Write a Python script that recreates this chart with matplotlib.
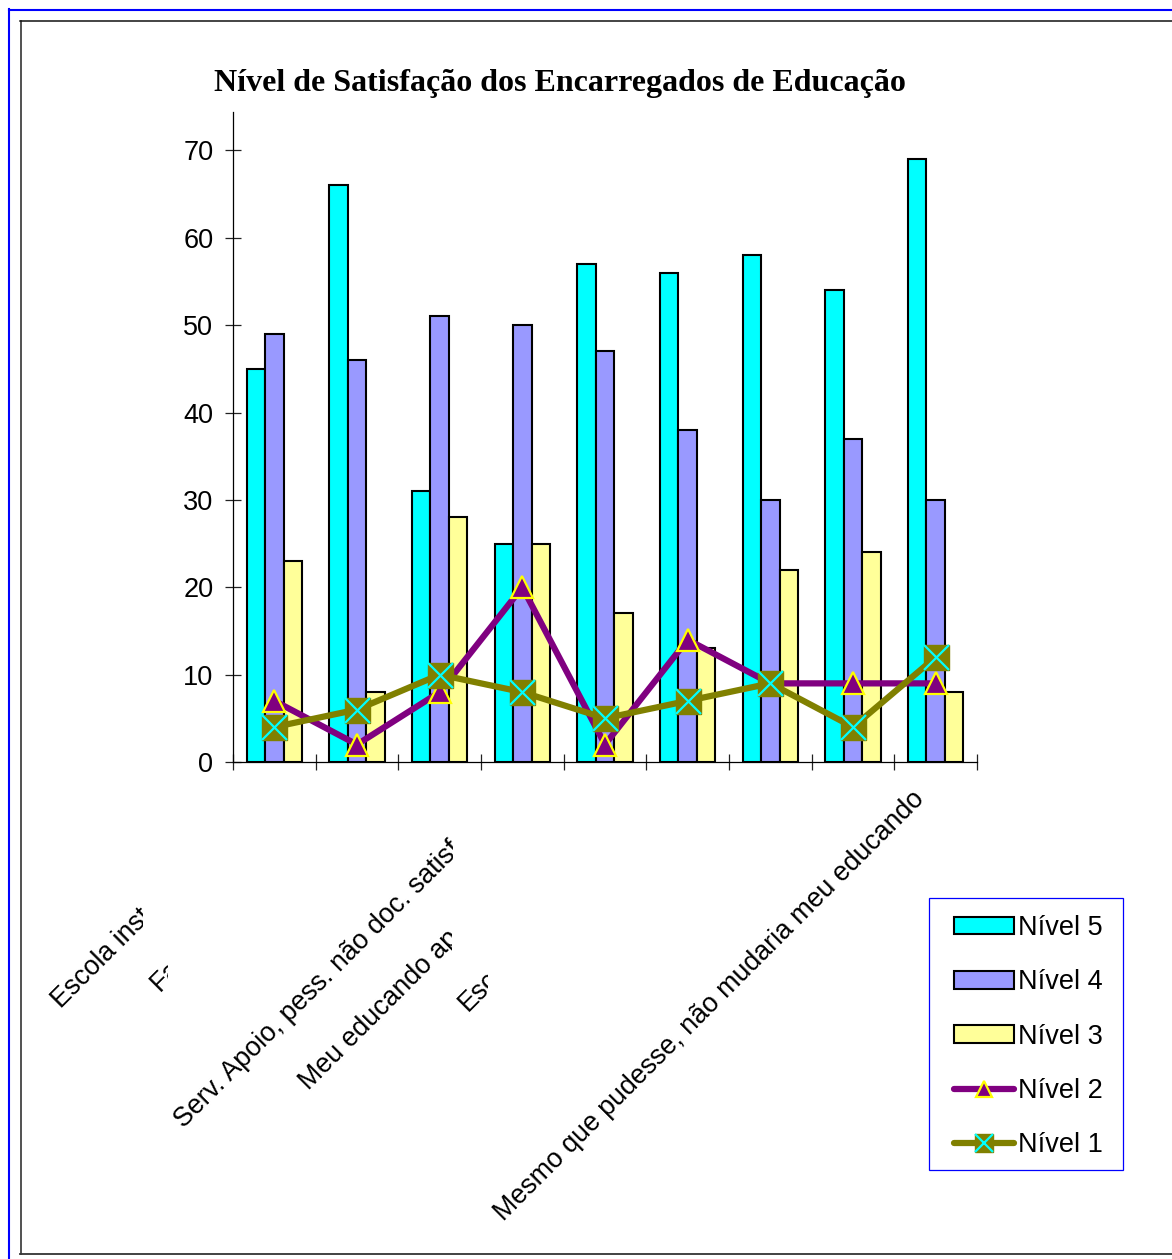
import matplotlib
matplotlib.use("Agg")
import matplotlib.pyplot as plt
import numpy as np
from matplotlib.lines import Line2D
from matplotlib.patches import Rectangle
from matplotlib.legend_handler import HandlerTuple
from matplotlib.transforms import Bbox

plt.rcParams["font.family"] = ["Liberation Sans", "DejaVu Sans"]

# ---- data -------------------------------------------------------------
title = "Nível de Satisfação dos Encarregados de Educação"
categories = [
    "Escola inst",
    "Fa",
    "",
    "Serv. Apoio, pess. não doc. satisf",
    "Meu educando ap",
    "Esc",
    "",
    "",
    "Mesmo que pudesse, não mudaria meu educando",
]
nivel5 = [45, 66, 31, 25, 57, 56, 58, 54, 69]
nivel4 = [49, 46, 51, 50, 47, 38, 30, 37, 30]
nivel3 = [23, 8, 28, 25, 17, 13, 22, 24, 8]
nivel2 = [7, 2, 8, 20, 2, 14, 9, 9, 9]
nivel1 = [4, 6, 10, 8, 5, 7, 9, 4, 12]
series_names = ["Nível 5", "Nível 4", "Nível 3", "Nível 2", "Nível 1"]
y_ticks = [0, 10, 20, 30, 40, 50, 60, 70]

# ---- layout (pixels, measured from the top-left corner) -----------------
W, H = 1172, 1259
# baseline start of each rotated category label and the x where it is cut off
label_start = [(61, 1009), (160, 992), None, (184, 1129), (309, 1091),
               (468, 1012), None, None, (504, 1222)]
label_clip_x = [143, 168, None, 453, 452, 488, None, None, None]

fig = plt.figure(figsize=(W / 100, H / 100), dpi=100)
fig.patch.set_facecolor("white")

ax = fig.add_axes([233 / W, 1 - 762 / H, (977 - 233) / W, (762 - 112) / H])
ax.set_xlim(0, len(nivel5))
ax.set_ylim(0, 74.4)

x = np.arange(len(nivel5)) + 0.5
bw = 0.222
b5 = ax.bar(x - bw, nivel5, bw, color="#00FFFF", edgecolor="black", linewidth=1.5, zorder=2)
b4 = ax.bar(x, nivel4, bw, color="#9999FF", edgecolor="black", linewidth=1.5, zorder=2)
b3 = ax.bar(x + bw, nivel3, bw, color="#FFFF99", edgecolor="black", linewidth=1.5, zorder=2)

l2, = ax.plot(x, nivel2, color="#800080", lw=4.5, marker="^", ms=16,
              mfc="#800080", mec="#FFFF00", mew=1.6, zorder=3,
              solid_capstyle="round", solid_joinstyle="round")
l1, = ax.plot(x, nivel1, color="#808000", lw=4.5, marker="s", ms=18,
              mfc="#808000", mec="#808000", mew=1.0, zorder=4,
              solid_capstyle="round", solid_joinstyle="round")
l1x, = ax.plot(x, nivel1, ls="none", marker="x", ms=18, mec="#00FFFF",
               mew=1.6, zorder=5)

for side in ("top", "right"):
    ax.spines[side].set_visible(False)
for side in ("left", "bottom"):
    ax.spines[side].set_linewidth(0.9)
    ax.spines[side].set_color("black")

ax.set_xticks(np.arange(len(nivel5) + 1))
ax.set_xticklabels([])
ax.set_yticks(y_ticks)
ax.set_yticklabels([str(v) for v in y_ticks])
ax.tick_params(axis="both", direction="inout", length=12, width=0.9, color="#222222")
ax.tick_params(axis="y", labelsize=19.5, pad=8.2)

# ---- rotated category labels -------------------------------------------
for i, txt in enumerate(categories):
    if not txt:
        continue
    sx, sy = label_start[i]
    t = fig.text(sx / W, 1 - sy / H, txt, rotation=45, rotation_mode="anchor",
                 ha="left", va="baseline", fontsize=19.3)
    if label_clip_x[i] is not None:
        t.set_clip_on(True)
        t.set_clip_box(Bbox.from_extents(0, 0, label_clip_x[i], H))

# ---- title --------------------------------------------------------------
fig.text(560 / W, 1 - 91 / H, title, ha="center", va="baseline",
         fontsize=23, fontweight="bold", family=["Liberation Serif", "DejaVu Serif"])

# ---- legend -------------------------------------------------------------
leg = ax.legend([b5, b4, b3, l2, (l1, l1x)], series_names,
                loc="upper left", bbox_to_anchor=(954 / W, 1 - 915 / H),
                bbox_transform=fig.transFigure, frameon=False,
                borderpad=0, borderaxespad=0, fontsize=19.5,
                handlelength=2.2, handleheight=0.64, handletextpad=0.17,
                labelspacing=1.045, markerscale=0.75,
                handler_map={tuple: HandlerTuple(ndivide=1)})
fig.add_artist(Rectangle((929 / W, 1 - 1170 / H), (1123 - 929) / W, (1170 - 898) / H,
                         transform=fig.transFigure, facecolor="none",
                         edgecolor="#0000FF", linewidth=0.9))

# ---- page frames --------------------------------------------------------
fig.add_artist(Line2D([9.5 / W, 9.5 / W], [0, 1 - 9 / H], color="#0000FF", lw=1.5,
                      transform=fig.transFigure))
fig.add_artist(Line2D([8.5 / W, 1], [1 - 10 / H, 1 - 10 / H], color="#0000FF", lw=1.5,
                      transform=fig.transFigure))
fig.add_artist(Line2D([20.5 / W, 20.5 / W], [1 - 1254 / H, 1 - 21 / H], color="#222222",
                      lw=1.1, transform=fig.transFigure))
fig.add_artist(Line2D([20 / W, 1], [1 - 21 / H, 1 - 21 / H], color="#111111", lw=1.1,
                      transform=fig.transFigure))
fig.add_artist(Line2D([20 / W, 1], [1 - 1254 / H, 1 - 1254 / H], color="#333333",
                      lw=1.3, transform=fig.transFigure))

fig.savefig("out.png", dpi=100)
